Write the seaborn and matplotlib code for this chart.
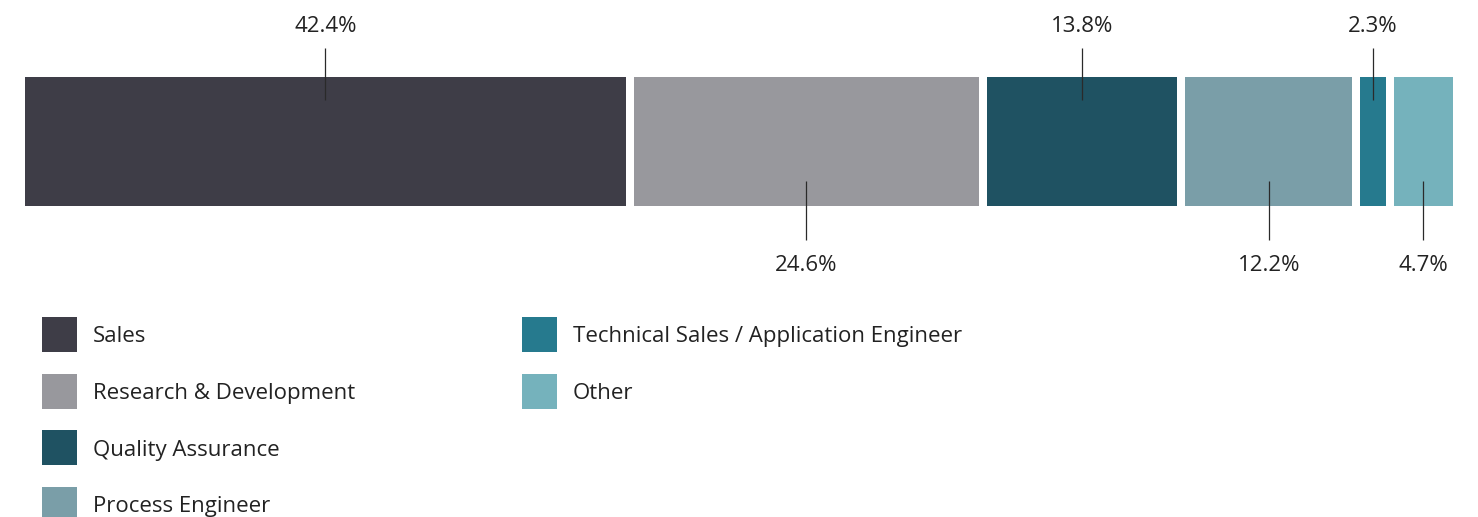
import matplotlib
matplotlib.use("Agg")
import matplotlib.pyplot as plt
import seaborn as sns
import pandas as pd
import numpy as np
from matplotlib.patches import Rectangle

# Share of respondents by job function (%)
categories = [
    "Sales",
    "Research & Development",
    "Quality Assurance",
    "Process Engineer",
    "Technical Sales / Application Engineer",
    "Other",
]
shares = [42.4, 24.6, 13.8, 12.2, 2.3, 4.7]
colors = ["#3e3d47", "#98989d", "#1f5262", "#7a9ea8", "#267a8e", "#75b2bc"]
label_above = [True, False, True, False, True, False]

sns.set_theme(style="white")
plt.rcParams["font.family"] = ["Open Sans", "DejaVu Sans"]

W, H = 1478, 517
DPI = 100
TEXT = "#222222"
fig = plt.figure(figsize=(W / DPI, H / DPI), dpi=DPI)
fig.patch.set_facecolor("white")

# axes spans exactly the stacked bar (including its white separators)
ax = fig.add_axes([21 / W, (H - 210) / H, 1436 / W, 137 / H])

ends = np.cumsum(shares)
df = pd.DataFrame({
    "role": categories,
    "share": shares,
    "end": ends,
    "group": ["All"] * len(categories),
})

sep_pt = 8 * 72 / DPI  # white gap between segments
# draw cumulative bars from the longest to the shortest so each one shows its own segment
for i in reversed(range(len(categories))):
    sns.barplot(
        data=df.iloc[[i]], x="end", y="group", orient="h",
        color=colors[i], saturation=1, width=1.0,
        edgecolor="white", linewidth=sep_pt, ax=ax,
    )

ax.set_xlim(0, 100)
ax.set_ylim(0.5, -0.5)
ax.axis("off")

# value labels with leader lines, alternating above and below the bar
trans = ax.get_xaxis_transform()
centers = ends - np.array(shares) / 2
FS = 16
for c, v, up in zip(centers, shares, label_above):
    if up:
        y0, y1, ty = 0.803, 1.182, 1.299
    else:
        y0, y1, ty = 0.212, -0.219, -0.445
    ax.plot([c, c], [y0, y1], transform=trans, color="#2a2a2a", lw=0.9,
            clip_on=False, solid_capstyle="butt")
    ax.text(c, ty, f"{v:.1f}%", transform=trans, ha="center", va="baseline",
            fontsize=FS, color=TEXT)

# legend: two columns of square swatches, laid out in pixel units
lax = fig.add_axes([0, 0, 1, 1])
lax.set_xlim(0, W)
lax.set_ylim(H, 0)
lax.axis("off")
lax.patch.set_alpha(0)
rows_per_col = 4
col_step, row_step = 480, 56.7
sw = 35
for i, (cat, col) in enumerate(zip(categories, colors)):
    cx = 42 + (i // rows_per_col) * col_step
    cy = 317 + (i % rows_per_col) * row_step
    lax.add_patch(Rectangle((cx, cy), sw, sw, facecolor=col, edgecolor="none"))
    lax.text(cx + sw + 16, cy + sw / 2 + 7.8, cat, ha="left", va="baseline",
             fontsize=FS, color=TEXT)

fig.savefig("out.png", dpi=DPI, facecolor="white")
